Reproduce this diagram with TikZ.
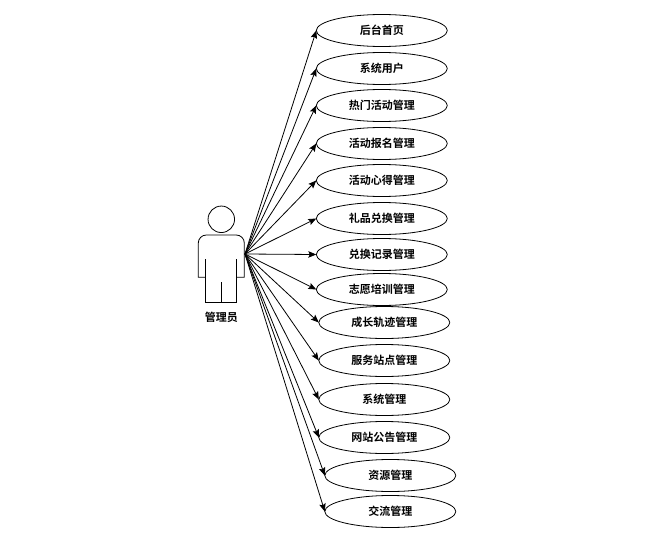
\documentclass[tikz,border=0pt]{standalone}
\usepackage{fontspec}
\setmainfont{Noto Sans CJK SC}[BoldFont={* Bold}]
\usetikzlibrary{positioning,shapes.geometric,arrows.meta}

\begin{document}
\begin{tikzpicture}[x=1pt,y=-1pt,
  line width=0.8pt,
  usecase/.style={draw,ellipse,minimum width=131pt,minimum height=32pt,inner sep=0pt,outer sep=0pt,font=\fontsize{11}{13}\selectfont\bfseries},
  lbl/.style={font=\fontsize{11}{13}\selectfont\bfseries,inner sep=0pt},
  link/.style={-{Stealth[length=8pt,width=6.5pt,inset=1.5pt]}},
  >=stealth
]
\useasboundingbox (0,0) rectangle (665,541);
% actor
\node[draw,circle,minimum size=26.5pt,inner sep=0pt] (head) at (221.3,219.3) {};
\draw (205.7,277.3) -- (198.3,277.3) [rounded corners=8pt] -- (198.3,235) -- (244.3,235) [sharp corners] -- (244.3,277.3) -- (236.7,277.3);
\draw (205.7,259.3) -- (205.7,302.3) -- (236.7,302.3) -- (236.7,259.3);
\draw (221.3,282.3) -- (221.3,302.3);
\node[lbl] (admin) at (221.3,317) {管理员};
\coordinate (hand) at (245,254);

\node[usecase] (home) at (381.8,30.5) {后台首页};
\node[usecase,below=6pt of home] (user) {系统用户};
\node[usecase,below=5pt of user] (hot) {热门活动管理};
\node[usecase,below=6pt of hot] (signup) {活动报名管理};
\node[usecase,below=5pt of signup] (note) {活动心得管理};
\node[usecase,below=6pt of note] (gift) {礼品兑换管理};
\node[usecase,below=4pt of gift] (record) {兑换记录管理};
\node[usecase,below=3pt of record] (train) {志愿培训管理};
\node[usecase,below=1pt of train,xshift=2.5pt] (growth) {成长轨迹管理};
\node[usecase,below=6pt of growth] (station) {服务站点管理};
\node[usecase,below=7pt of station] (sys) {系统管理};
\node[usecase,below=6pt of sys] (notice) {网站公告管理};
\node[usecase,below=6pt of notice,xshift=6pt] (res) {资源管理};
\node[usecase,below=4pt of res] (talk) {交流管理};

\draw[link] (hand) -- (home.west);
\draw[link] (hand) -- (user.west);
\draw[link] (hand) -- (hot.west);
\draw[link] (hand) -- (signup.west);
\draw[link] (hand) -- (note.west);
\draw[link] (hand) -- (gift.west);
\draw[link] (hand) -- (record.west);
\draw[link] (hand) -- (train.west);
\draw[link] (hand) -- (growth.west);
\draw[link] (hand) -- (station.west);
\draw[link] (hand) -- (sys.west);
\draw[link] (hand) -- (notice.west);
\draw[link] (hand) -- (res.west);
\draw[link] (hand) -- (talk.west);
\end{tikzpicture}
\end{document}
